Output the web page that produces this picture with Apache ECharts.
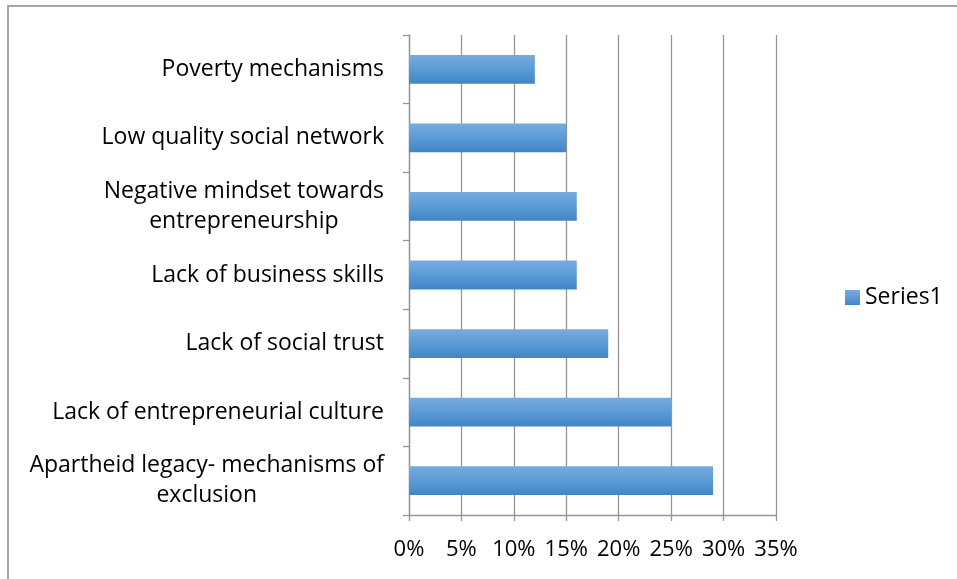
<!DOCTYPE html>
<html>
<head>
<meta charset="utf-8">
<script src="https://cdn.jsdelivr.net/npm/echarts@6/dist/echarts.min.js"></script>
<style>
  html, body { margin: 0; padding: 0; background: #fff; }
  #frame { position: absolute; left: 7px; top: 5px; width: 960px; height: 580px;
           border-left: 2px solid #a6a6a6; border-top: 2px solid #a6a6a6; }
  #chart { position: absolute; left: 0; top: 0; width: 957px; height: 579px; }
</style>
</head>
<body>
<div id="frame"></div>
<div id="chart"></div>
<script>
// Categories listed bottom-to-top (ECharts category y-axis starts at the bottom)
const categories = [
  'Apartheid legacy- mechanisms of\nexclusion',
  'Lack of entrepreneurial culture',
  'Lack of social trust',
  'Lack of business skills',
  'Negative mindset towards\nentrepreneurship',
  'Low quality social network',
  'Poverty mechanisms'
];
const seriesName = 'Series1';
const values = [0.29, 0.25, 0.19, 0.16, 0.16, 0.15, 0.12];
const xMin = 0, xMax = 0.35, xStep = 0.05;

const FONT = 'Open Sans';
const chart = echarts.init(document.getElementById('chart'), null, { renderer: 'canvas' });
chart.setOption({
  animation: false,
  backgroundColor: 'transparent',
  grid: { left: 409, right: 181, top: 35, bottom: 64, containLabel: false },
  legend: {
    data: [seriesName],
    left: 840, top: 281,
    icon: 'rect', itemWidth: 15, itemHeight: 15, itemGap: 5,
    textStyle: { fontFamily: FONT, fontSize: 23, color: '#000' }
  },
  xAxis: {
    type: 'value', min: xMin, max: xMax, interval: xStep,
    axisLine: { show: true, lineStyle: { color: '#969696', width: 1.3 } },
    axisTick: { show: true, length: 6, lineStyle: { color: '#969696', width: 1.3 } },
    splitLine: { show: true, lineStyle: { color: '#969696', width: 1.3 } },
    axisLabel: {
      margin: 24, color: '#000', fontFamily: FONT, fontSize: 22,
      formatter: v => Math.round(v * 100) + '%'
    }
  },
  yAxis: {
    type: 'category', data: categories,
    axisLine: { show: true, lineStyle: { color: '#969696', width: 1.3 } },
    axisTick: { show: true, length: 6, alignWithLabel: false, lineStyle: { color: '#969696', width: 1.3 } },
    axisLabel: {
      margin: 25, color: '#000', fontFamily: FONT, fontSize: 23, lineHeight: 30,
      formatter: v => v.split('\n').map(s => '{c|' + s + '}').join('\n'),
      rich: { c: { align: 'center', fontFamily: FONT, fontSize: 23, lineHeight: 30, color: '#000' } }
    }
  },
  series: [{
    name: seriesName, type: 'bar', data: values,
    barWidth: '42%',
    itemStyle: {
      color: new echarts.graphic.LinearGradient(0, 0, 0, 1, [
        { offset: 0, color: '#77abdf' },
        { offset: 0.5, color: '#5b9bd5' },
        { offset: 1, color: '#4185c7' }
      ])
    }
  }]
});
</script>
</body>
</html>
